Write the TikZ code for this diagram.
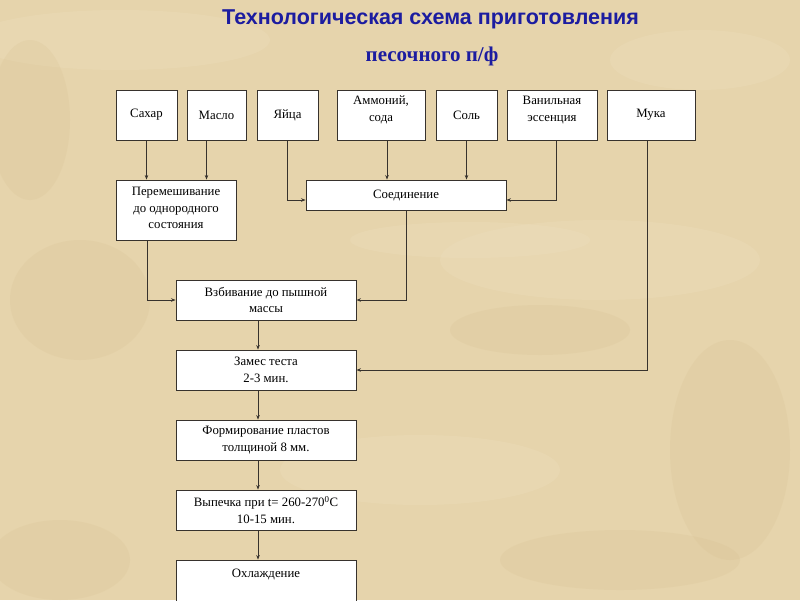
\documentclass[tikz,border=0pt]{standalone}
\usepackage{fontspec}
\setmainfont{Liberation Serif}
\newfontfamily\titlefont{Liberation Sans}
\usetikzlibrary{arrows.meta}
\definecolor{bgcol}{RGB}{230,212,172}
\definecolor{bglight}{RGB}{242,230,202}
\definecolor{bgdark}{RGB}{212,188,140}
\definecolor{titlecol}{RGB}{28,28,160}
\definecolor{linecol}{RGB}{55,50,45}
\tikzset{
  box/.style={draw=linecol, fill=white, line width=0.9pt, inner sep=0pt, align=center, font=\fontsize{12.8}{16.5}\selectfont},
  txt/.style={inner sep=0pt, align=center, font=\fontsize{12.8}{16.5}\selectfont},
  arr/.style={draw=linecol, line width=0.9pt, -{Stealth[length=4.5pt,width=3.5pt]}},
  blob/.style={opacity=0.18}
}
\begin{document}
\begin{tikzpicture}[x=1pt,y=-1pt]
\useasboundingbox (0,0) rectangle (800,600);
\fill[bgcol] (0,0) rectangle (800,600);
\begin{scope}
\clip (0,0) rectangle (800,600);
\fill[bglight,blob] (120,40) ellipse (150 and 30);
\fill[bglight,blob] (600,260) ellipse (160 and 40);
\fill[bglight,blob] (420,470) ellipse (140 and 35);
\fill[bgdark,blob] (80,300) ellipse (70 and 60);
\fill[bgdark,blob] (730,450) ellipse (60 and 110);
\fill[bgdark,blob] (540,330) ellipse (90 and 25);
\fill[bgdark,blob] (60,560) ellipse (70 and 40);
\fill[bglight,blob] (700,60) ellipse (90 and 30);
\fill[bgdark,blob] (30,120) ellipse (40 and 80);
\fill[bglight,blob] (470,240) ellipse (120 and 18);
\fill[bgdark,blob] (620,560) ellipse (120 and 30);
\end{scope}

\node[font=\titlefont\bfseries\fontsize{21.5}{24}\selectfont, text=titlecol] (t1) at (430.5,19) {Технологическая схема приготовления};
\node[font=\bfseries\fontsize{21}{24}\selectfont, text=titlecol] (t2) at (432,56) {песочного п/ф};

% top row
\node[box, minimum width=61, minimum height=50] (sahar) at (146.5,115) {Сахар};
\node[box, minimum width=59, minimum height=50] (maslo) at (216.5,115) {Масло};
\node[box, minimum width=61, minimum height=50] (yaica) at (287.5,115) {Яйца};
\node[box, minimum width=88, minimum height=50] (amm) at (381,115) {};
\node[txt] (ammt) at (381,110) {Аммоний,\\сода};
\node[box, minimum width=61, minimum height=50] (sol) at (466.5,115) {Соль};
\node[box, minimum width=90, minimum height=50] (van) at (552,115) {};
\node[txt] (vant) at (552,110) {Ванильная\\эссенция};
\node[box, minimum width=88, minimum height=50] (muka) at (651,115) {Мука};

% second row
\node[box, minimum width=120, minimum height=60] (perem) at (176,210) {};
\node[txt] (peremt) at (176,208) {Перемешивание\\до однородного\\состояния};
\node[box, minimum width=200, minimum height=30] (soed) at (406,195) {Соединение};

% column
\node[box, minimum width=180, minimum height=40] (vzb) at (266,300) {Взбивание до пышной\\массы};
\node[box, minimum width=180, minimum height=40] (zames) at (266,370) {Замес теста\\2-3 мин.};
\node[box, minimum width=180, minimum height=40] (form) at (266,440) {Формирование пластов\\толщиной 8 мм.};
\node[box, minimum width=180, minimum height=40] (vyp) at (266,510) {Выпечка при t= 260-270\textsuperscript{0}С\\10-15 мин.};
\node[box, minimum width=180, minimum height=50] (ohl) at (266,585) {};
\node[txt] (ohlt) at (266,574) {Охлаждение};

% connectors
\draw[arr] (sahar.south) -- (sahar.south |- perem.north);
\draw[arr] ([xshift=-10pt]maslo.south) -- ([xshift=-10pt]maslo.south |- perem.north);
\draw[arr] (yaica.south) |- ([yshift=-5pt]soed.west);
\draw[arr] ([xshift=6pt]amm.south) -- ([xshift=6pt]amm.south |- soed.north);
\draw[arr] (sol.south) -- (sol.south |- soed.north);
\draw[arr] ([xshift=4pt]van.south) |- ([yshift=-5pt]soed.east);
\draw[arr] ([xshift=-4pt]muka.south) |- (zames.east);
\draw[arr] ([xshift=-29pt]perem.south) |- (vzb.west);
\draw[arr] (soed.south) |- (vzb.east);
\draw[arr] ([xshift=-8pt]vzb.south) -- ([xshift=-8pt]zames.north);
\draw[arr] ([xshift=-8pt]zames.south) -- ([xshift=-8pt]form.north);
\draw[arr] ([xshift=-8pt]form.south) -- ([xshift=-8pt]vyp.north);
\draw[arr] ([xshift=-8pt]vyp.south) -- ([xshift=-8pt]ohl.north);
\end{tikzpicture}
\end{document}
